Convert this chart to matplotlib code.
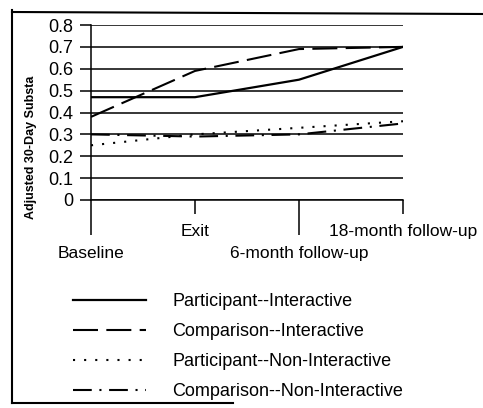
"""Adjusted 30-day substance use by group, four time points."""

import matplotlib.pyplot as plt
from matplotlib.lines import Line2D

plt.rcParams["font.family"] = ["Liberation Sans", "DejaVu Sans"]
plt.rcParams["lines.scale_dashes"] = False

timepoints = ["Baseline", "Exit", "6-month follow-up", "18-month follow-up"]
participant_interactive = [0.47, 0.47, 0.55, 0.70]
comparison_interactive = [0.38, 0.59, 0.69, 0.70]
participant_noninteractive = [0.25, 0.30, 0.33, 0.36]
comparison_noninteractive = [0.30, 0.29, 0.30, 0.35]
y_ticks = [0, 0.1, 0.2, 0.3, 0.4, 0.5, 0.6, 0.7, 0.8]
y_labels = ["0", "0.1", "0.2", "0.3", "0.4", "0.5", "0.6", "0.7", "0.8"]

fig = plt.figure(figsize=(4.83, 4.08), dpi=100)
ax = fig.add_axes([91 / 483, 1 - 200 / 408, 312 / 483, 175 / 408])

x = list(range(len(timepoints)))
ax.plot(x, participant_interactive, color="black", lw=1.6, ls="-",
        label="Participant--Interactive")
ax.plot(x, comparison_interactive, color="black", lw=1.5, ls=(0, (18, 6)),
        label="Comparison--Interactive")
ax.plot(x, participant_noninteractive, color="black", lw=1.5, ls=(0, (1.5, 6.5)),
        label="Participant--Non-Interactive")
ax.plot(x, comparison_noninteractive, color="black", lw=1.5,
        ls=(0, (13.5, 5.5, 1.5, 5.5)), label="Comparison--Non-Interactive")

ax.set_xlim(0, 3)
ax.set_ylim(0, 0.8)
ax.set_yticks(y_ticks)
ax.set_yticklabels(y_labels, fontsize=13)
ax.yaxis.grid(True, color="black", lw=1.1)
ax.set_axisbelow(True)
ax.tick_params(axis="y", length=8, width=1.1, pad=5, direction="out")

# staggered category labels: long ticks on 0 and 2, short ticks on 1 and 3
ax.set_xticks([0, 2])
ax.set_xticklabels([timepoints[0], timepoints[2]], fontsize=12.5)
ax.set_xticks([1, 3], minor=True)
ax.set_xticklabels([timepoints[1], timepoints[3]], minor=True, fontsize=12.5)
ax.tick_params(axis="x", which="major", length=25, width=1.1, pad=8, direction="out")
ax.tick_params(axis="x", which="minor", length=10, width=1.1, pad=7, direction="out")

for side in ["top", "right"]:
    ax.spines[side].set_visible(False)
for side in ["left", "bottom"]:
    ax.spines[side].set_linewidth(1.1)

fig.text(31 / 483, 1 - 147 / 408, "Adjusted 30-Day Substa", rotation=90,
         ha="center", va="center", fontsize=9, fontweight="bold")

ax.legend(loc="upper left", bbox_to_anchor=(73 / 483, 1 - 293 / 408),
          bbox_transform=fig.transFigure, frameon=False, fontsize=13,
          handlelength=4.05, handletextpad=1.45, labelspacing=0.72,
          borderpad=0, borderaxespad=0)

# scanned outer frame (left, top, bottom edges)
frame = dict(color="black", lw=1.5, transform=fig.transFigure)
fig.add_artist(Line2D([12 / 483, 12 / 483], [1 - 10 / 408, 1 - 403 / 408], **frame))
fig.add_artist(Line2D([12 / 483, 1.0], [1 - 12 / 408, 1 - 14 / 408], **frame))
fig.add_artist(Line2D([12 / 483, 233 / 483], [1 - 403 / 408, 1 - 403 / 408], **frame))

fig.savefig("out.png", dpi=100)
